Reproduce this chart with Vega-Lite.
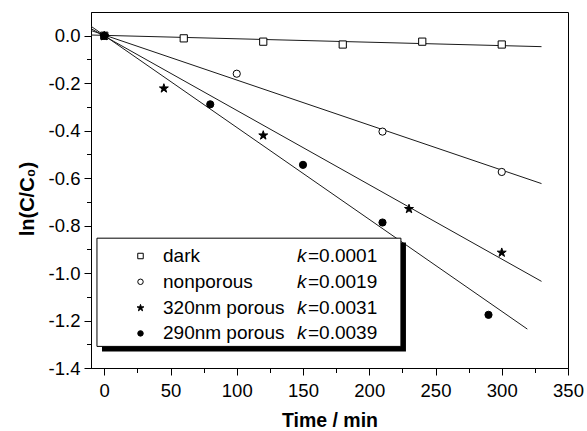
{
  "$schema": "https://vega.github.io/schema/vega-lite/v6.json",
  "width": 477,
  "height": 356,
  "autosize": {"type": "none"},
  "padding": {"left": 91, "top": 12, "right": 19, "bottom": 63},
  "background": "white",
  "datasets": {
    "points": [
      {"series": "dark", "t": 0, "y": 0},
      {"series": "dark", "t": 60, "y": -0.011},
      {"series": "dark", "t": 120, "y": -0.025},
      {"series": "dark", "t": 180, "y": -0.037},
      {"series": "dark", "t": 240, "y": -0.025},
      {"series": "dark", "t": 300, "y": -0.037},
      {"series": "nonporous", "t": 0, "y": 0},
      {"series": "nonporous", "t": 100, "y": -0.16},
      {"series": "nonporous", "t": 210, "y": -0.404},
      {"series": "nonporous", "t": 300, "y": -0.574},
      {"series": "320nm porous", "t": 0, "y": 0},
      {"series": "320nm porous", "t": 45, "y": -0.22},
      {"series": "320nm porous", "t": 120, "y": -0.418},
      {"series": "320nm porous", "t": 230, "y": -0.728},
      {"series": "320nm porous", "t": 300, "y": -0.912},
      {"series": "290nm porous", "t": 0, "y": 0},
      {"series": "290nm porous", "t": 80, "y": -0.289},
      {"series": "290nm porous", "t": 150, "y": -0.544},
      {"series": "290nm porous", "t": 210, "y": -0.787},
      {"series": "290nm porous", "t": 290, "y": -1.176}
    ],
    "fits": [
      {"series": "dark", "k": "0.0001", "kname": "k=0.0001", "t": -10, "y": 0.003},
      {"series": "dark", "k": "0.0001", "kname": "k=0.0001", "t": 330, "y": -0.046},
      {"series": "nonporous", "k": "0.0019", "kname": "k=0.0019", "t": -10, "y": 0.022},
      {"series": "nonporous", "k": "0.0019", "kname": "k=0.0019", "t": 330, "y": -0.623},
      {"series": "320nm porous", "k": "0.0031", "kname": "k=0.0031", "t": -10, "y": 0.03},
      {"series": "320nm porous", "k": "0.0031", "kname": "k=0.0031", "t": 330, "y": -1.035},
      {"series": "290nm porous", "k": "0.0039", "kname": "k=0.0039", "t": -10, "y": 0.04},
      {"series": "290nm porous", "k": "0.0039", "kname": "k=0.0039", "t": 319.3, "y": -1.236}
    ],
    "box": [{"label": "legend"}]
  },
  "layer": [
    {
      "data": {"name": "fits"},
      "mark": {"type": "line", "color": "#1a1a1a", "clip": true},
      "encoding": {
        "x": {"field": "t", "type": "quantitative",
          "scale": {"domain": [-10, 350], "nice": false, "zero": false},
          "axis": {"orient": "bottom", "values": [25, 75, 125, 175, 225, 275, 325], "tickSize": 4.5, "labels": false, "domain": false, "grid": false, "title": null}},
        "y": {"field": "y", "type": "quantitative",
          "scale": {"domain": [-1.4, 0.1], "nice": false, "zero": false},
          "axis": {"orient": "left", "values": [-1.3, -1.1, -0.9, -0.7, -0.5, -0.3, -0.1], "tickSize": 4.5, "labels": false, "domain": false, "grid": false, "title": null}},
        "detail": {"field": "series"},
        "opacity": {"field": "k", "type": "ordinal", "scale": {"range": [1, 1]},
          "legend": {"orient": "none", "legendX": 198, "legendY": 234.5, "title": null, "padding": 0, "labelFontSize": 19, "labelFont": "Liberation Sans", "labelColor": "black", "labelExpr": "'=' + datum.label", "symbolType": "circle", "symbolSize": 0, "symbolOpacity": 0, "symbolStrokeWidth": 0, "labelOffset": 0, "rowPadding": 5.8}},
        "strokeWidth": {"field": "kname", "type": "ordinal", "scale": {"range": [1, 1]},
          "legend": {"orient": "none", "legendX": 187, "legendY": 234.5, "title": null, "padding": 0, "labelFontSize": 19, "labelFont": "Liberation Sans", "labelFontStyle": "italic", "labelColor": "black", "labelExpr": "'k'", "symbolType": "circle", "symbolSize": 0, "symbolOpacity": 0, "symbolStrokeWidth": 0, "labelOffset": 0, "rowPadding": 5.8}}
      }
    },
    {
      "data": {"name": "points"},
      "mark": {"type": "point", "filled": true, "strokeWidth": 1, "size": 52, "opacity": 1},
      "encoding": {
        "x": {"field": "t", "type": "quantitative",
          "scale": {"domain": [-10, 350], "nice": false, "zero": false},
          "axis": {"orient": "bottom", "values": [0, 50, 100, 150, 200, 250, 300, 350], "tickSize": 7, "labelFontSize": 18.5, "labelPadding": 6, "labelFlush": false, "labelOverlap": false, "grid": false, "title": "Time / min", "titleFontSize": 19.5, "titleFontWeight": "bold", "titlePadding": 12}},
        "y": {"field": "y", "type": "quantitative",
          "scale": {"domain": [-1.4, 0.1], "nice": false, "zero": false},
          "axis": {"orient": "left", "values": [0, -0.2, -0.4, -0.6, -0.8, -1.0, -1.2, -1.4], "tickSize": 7, "labelFontSize": 18.5, "labelPadding": 4, "labelFlush": false, "labelOverlap": false, "grid": false, "labelExpr": "replace(format(datum.value, '.1f'), '\u2212', '-')", "title": "ln(C/C₀)", "titleFontSize": 20, "titleFontWeight": "bold", "titlePadding": 11, "titleY": 186.5}},
        "shape": {"field": "series", "type": "nominal",
          "scale": {"domain": ["dark", "nonporous", "320nm porous", "290nm porous"], "range": ["square", "circle", "M0,-1.176L0.292,-0.278L1.236,-0.278L0.472,0.277L0.764,1.176L0,0.621L-0.764,1.176L-0.472,0.277L-1.236,-0.278L-0.292,-0.278Z", "circle"]},
          "legend": {"orient": "none", "legendX": 40, "legendY": 234.5, "title": null, "padding": 0, "labelFontSize": 19, "labelFont": "Liberation Sans", "labelColor": "black", "symbolSize": 30, "symbolStrokeWidth": 1, "labelOffset": 13, "rowPadding": 5.8}},
        "fill": {"field": "series", "type": "nominal",
          "scale": {"domain": ["dark", "nonporous", "320nm porous", "290nm porous"], "range": ["white", "white", "black", "black"]},
          "legend": {"orient": "none", "legendX": 40, "legendY": 234.5, "title": null, "padding": 0, "labelFontSize": 19, "labelFont": "Liberation Sans", "labelColor": "black", "symbolSize": 30, "symbolStrokeWidth": 1, "labelOffset": 13, "rowPadding": 5.8}},
        "stroke": {"field": "series", "type": "nominal",
          "scale": {"domain": ["dark", "nonporous", "320nm porous", "290nm porous"], "range": ["black", "black", "black", "black"]},
          "legend": {"orient": "none", "legendX": 40, "legendY": 234.5, "title": null, "padding": 0, "labelFontSize": 19, "labelFont": "Liberation Sans", "labelColor": "black", "symbolSize": 30, "symbolStrokeWidth": 1, "labelOffset": 13, "rowPadding": 5.8}}
      }
    },
    {
      "data": {"name": "box"},
      "mark": {"type": "rect", "color": "black"},
      "encoding": {
        "x": {"datum": -1.7, "type": "quantitative", "scale": {"domain": [-10, 350], "nice": false, "zero": false}, "axis": null},
        "x2": {"datum": 227.7},
        "y": {"datum": -0.871, "type": "quantitative", "scale": {"domain": [-1.4, 0.1], "nice": false, "zero": false}, "axis": null},
        "y2": {"datum": -1.33}
      }
    },
    {
      "data": {"name": "box"},
      "mark": {"type": "rect", "fill": "white", "stroke": "black", "strokeWidth": 1},
      "encoding": {
        "x": {"datum": -5.5, "type": "quantitative", "scale": {"domain": [-10, 350], "nice": false, "zero": false}, "axis": null},
        "x2": {"datum": 223.9},
        "y": {"datum": -0.853, "type": "quantitative", "scale": {"domain": [-1.4, 0.1], "nice": false, "zero": false}, "axis": null},
        "y2": {"datum": -1.309}
      }
    }
  ],
  "resolve": {"axis": {"x": "independent", "y": "independent"}},
  "config": {
    "font": "Liberation Sans",
    "view": {"stroke": "black", "strokeWidth": 1},
    "axis": {"domainColor": "black", "domainWidth": 1, "tickColor": "black", "tickWidth": 1, "labelColor": "black", "titleColor": "black", "labelFont": "Liberation Sans", "titleFont": "Liberation Sans"}
  }
}
